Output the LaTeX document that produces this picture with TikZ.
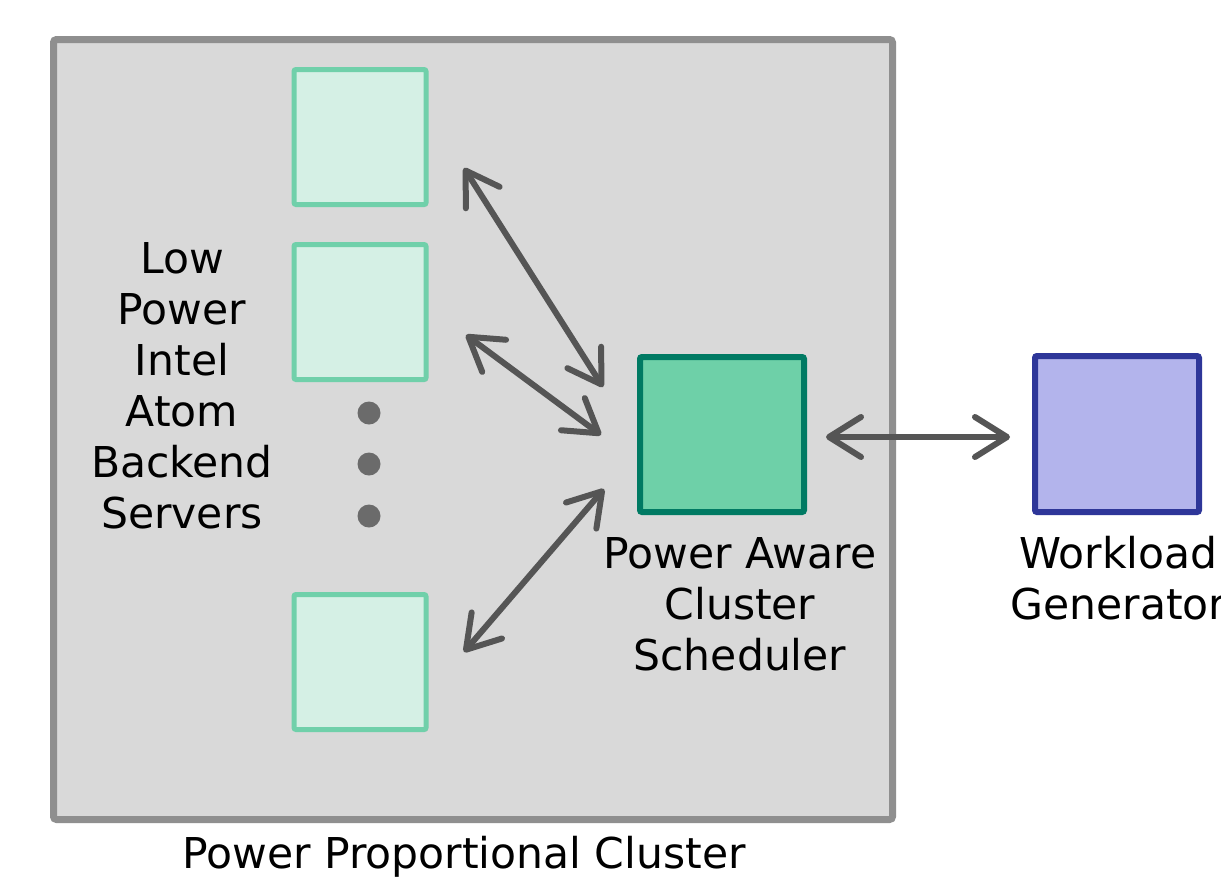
\documentclass[tikz,border=0pt]{standalone}
\usepackage{fontspec}
\setmainfont{DejaVu Sans}
\usetikzlibrary{arrows.meta,shadows}
\definecolor{clfill}{HTML}{D9D9D9}
\definecolor{cldraw}{HTML}{8F8F8F}
\definecolor{srvfill}{HTML}{D5F0E5}
\definecolor{srvdraw}{HTML}{70D0AA}
\definecolor{schfill}{HTML}{6ED0A8}
\definecolor{schdraw}{HTML}{007A63}
\definecolor{wlfill}{HTML}{B3B4EC}
\definecolor{wldraw}{HTML}{2E3699}
\definecolor{arr}{HTML}{555555}
\definecolor{dotc}{HTML}{6B6B6B}
\tikzset{
  srvbox/.style={draw=srvdraw, fill=srvfill, line width=5pt, minimum width=132pt, minimum height=135pt, inner sep=0pt, rounded corners=2pt, drop shadow={shadow xshift=2pt, shadow yshift=-2pt, opacity=0.25}},
  lbl/.style={font=\fontsize{42.5}{51}\selectfont, align=center, inner sep=0pt},
  biarrow/.style={draw=arr, line width=6pt, line cap=round, {Straight Barb[length=32pt,width=40pt,line cap=round,line join=round]}-{Straight Barb[length=32pt,width=40pt,line cap=round,line join=round]}},
  dotnode/.style={circle, fill=dotc, minimum size=23pt, inner sep=0pt}
}
\begin{document}
\begin{tikzpicture}[x=1pt,y=-1pt]
\useasboundingbox (0,0) rectangle (1221,879);
\fill[white] (0,0) rectangle (1221,879);
\node[draw=cldraw, fill=clfill, line width=7pt, minimum width=839pt, minimum height=780pt, inner sep=0pt, rounded corners=3pt, drop shadow={shadow xshift=2pt, shadow yshift=-2pt, opacity=0.2}] (cluster) at (473,429.5) {};
\node[srvbox] (s1) at (360,137) {};
\node[srvbox] (s2) at (360,312) {};
\node[srvbox] (s3) at (360,662) {};
\node[draw=schdraw, fill=schfill, line width=6pt, minimum width=164pt, minimum height=155pt, inner sep=0pt, rounded corners=2pt, drop shadow={shadow xshift=2pt, shadow yshift=-2pt, opacity=0.25}] (sched) at (722,434.5) {};
\node[draw=wldraw, fill=wlfill, line width=6pt, minimum width=164pt, minimum height=156pt, inner sep=0pt, rounded corners=2pt, drop shadow={shadow xshift=2pt, shadow yshift=-2pt, opacity=0.25}] (wl) at (1117,434) {};
\node[dotnode] (d1) at (369,413) {};
\node[dotnode] (d2) at (369,464) {};
\node[dotnode] (d3) at (369,516) {};
\node[lbl] (srvlbl) at (182,386) {Low\\Power\\Intel\\Atom\\Backend\\Servers};
\node[lbl] (schlbl) at (740,604) {Power Aware\\Cluster\\Scheduler};
\node[lbl] (wllbl) at (1118.5,578) {Workload\\Generator};
\node[lbl] (cllbl) at (464,857) {Power Proportional Cluster};
\coordinate (a1s) at (464,168);
\coordinate (a1e) at (603,387);
\coordinate (a2s) at (466,335);
\coordinate (a2e) at (601,435);
\coordinate (a3s) at (464,652);
\coordinate (a3e) at (604,489);
\coordinate (a4s) at (826,437);
\coordinate (a4e) at (1010,437);
\draw[biarrow] (a1s) -- (a1e);
\draw[biarrow] (a2s) -- (a2e);
\draw[biarrow] (a3s) -- (a3e);
\draw[biarrow] (a4s) -- (a4e);
\end{tikzpicture}
\end{document}
